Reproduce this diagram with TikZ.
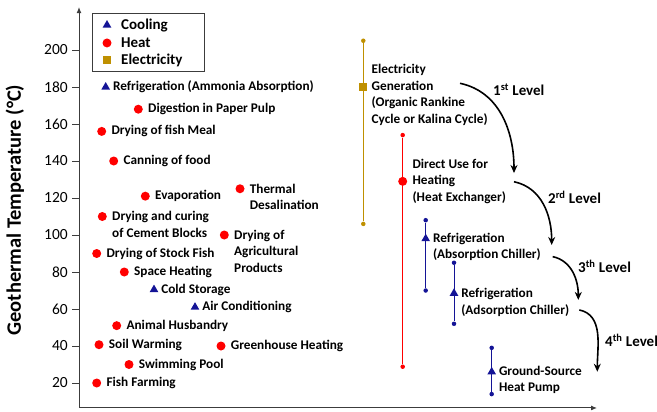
\documentclass[tikz,border=0pt]{standalone}
\usepackage{fontspec}
\setmainfont{Carlito}
\usetikzlibrary{arrows.meta}
\usetikzlibrary{calc}
\usetikzlibrary{positioning}
\usetikzlibrary{shapes.geometric}

\definecolor{coolblue}{RGB}{20,20,150}
\definecolor{heatred}{RGB}{255,0,0}
\definecolor{elecgold}{RGB}{191,144,0}
\definecolor{goldline}{RGB}{225,160,0}
\definecolor{axisgray}{RGB}{60,60,60}

\begin{document}
\begin{tikzpicture}[x=1pt, y=1.85pt,
    heat/.style={circle, fill=heatred, inner sep=0pt, minimum size=9pt},
    cool/.style={regular polygon, regular polygon sides=3, fill=coolblue, inner sep=0pt, minimum size=10pt},
    elec/.style={rectangle, fill=elecgold, inner sep=0pt, minimum size=8pt},
    enddot/.style={circle, fill=#1, inner sep=0pt, minimum size=4.5pt},
    txt/.style={font=\fontsize{13.25}{16.5}\selectfont\bfseries, align=left, inner sep=0pt},
    lvl/.style={font=\fontsize{15}{18}\selectfont\bfseries, anchor=west, inner sep=0pt},
    levelarrow/.style={line width=1.6pt, -{Stealth[length=8pt, width=7pt]}}]

  \useasboundingbox (0,4.865) rectangle (657,227.03);

  % axes
  \coordinate (origin) at (79,6.5);
  \coordinate (ytop) at (79,223.2);
  \coordinate (xend) at (597,6.5);
  \draw[axisgray, line width=1pt, -{Latex[length=6pt, width=5pt]}] (origin) -- (ytop);
  \draw[axisgray, line width=1pt, -{Latex[length=6pt, width=5pt]}] (origin) -- (xend);
  \foreach \t in {20,40,...,200}{
    \draw[axisgray, line width=0.6pt] (79,\t) -- (72,\t);
    \node[anchor=east, inner sep=0pt, font=\fontsize{15.5}{18}\selectfont] (tick\t) at (68,\t) {\t};
  }
  \node[rotate=90, font=\fontsize{20.5}{24}\selectfont\bfseries] (ylabel) at (15,113.5) {Geothermal Temperature (°C)};

  % legend
  \draw[axisgray, line width=0.6pt] (92.7,188.6) rectangle (204,220);
  \node[cool] (lgcool) at (107,213.5) {};
  \node[heat] (lgheat) at (107,203.8) {};
  \node[elec] (lgelec) at (107,194.6) {};
  \node[lvl] (lgcooltxt) at (121,213.5) {Cooling};
  \node[lvl] (lgheattxt) at (121,203.8) {Heat};
  \node[lvl] (lgelectxt) at (121,194.6) {Electricity};

  % direct applications
  \node[cool] (ram) at (105.7,180) {};
  \node[txt, right=4pt of ram] (ramtxt) {Refrigeration (Ammonia Absorption)};
  \node[heat] (dpp) at (138.3,168) {};
  \node[txt, right=5pt of dpp] (dpptxt) {Digestion in Paper Pulp};
  \node[heat] (dfm) at (101.7,156) {};
  \node[txt, right=5pt of dfm] (dfmtxt) {Drying of fish Meal};
  \node[heat] (cof) at (113.7,140) {};
  \node[txt, right=5pt of cof] (coftxt) {Canning of food};
  \node[heat] (eva) at (145.3,121) {};
  \node[txt, right=5pt of eva] (evatxt) {Evaporation};
  \node[heat] (tds) at (240,125) {};
  \node[txt, right=5pt of tds, yshift=-8pt] (tdstxt) {Thermal\\Desalination};
  \node[heat] (dcc) at (102.3,110) {};
  \node[txt, right=5pt of dcc, yshift=-8pt] (dcctxt) {Drying and curing\\of Cement Blocks};
  \node[heat] (dap) at (224.3,100) {};
  \node[txt, right=5pt of dap, yshift=-16pt] (daptxt) {Drying of\\Agricultural\\Products};
  \node[heat] (dsf) at (96.7,90) {};
  \node[txt, right=5pt of dsf] (dsftxt) {Drying of Stock Fish};
  \node[heat] (sph) at (124.3,80) {};
  \node[txt, right=5pt of sph] (sphtxt) {Space Heating};
  \node[cool] (cst) at (154,70.5) {};
  \node[txt, right=4pt of cst] (csttxt) {Cold Storage};
  \node[cool] (acn) at (195,61) {};
  \node[txt, right=4pt of acn] (acntxt) {Air Conditioning};
  \node[heat] (ahb) at (116.7,51) {};
  \node[txt, right=5pt of ahb] (ahbtxt) {Animal Husbandry};
  \node[heat] (soi) at (99,40.7) {};
  \node[txt, right=5pt of soi] (soitxt) {Soil Warming};
  \node[heat] (grh) at (221,40) {};
  \node[txt, right=5pt of grh] (grhtxt) {Greenhouse Heating};
  \node[heat] (swp) at (129,30) {};
  \node[txt, right=5pt of swp] (swptxt) {Swimming Pool};
  \node[heat] (ffa) at (96.7,20) {};
  \node[txt, right=5pt of ffa] (ffatxt) {Fish Farming};

  % cascade ranges
  \node[enddot=elecgold] (egtop) at (363.3,205) {};
  \node[enddot=elecgold] (egbot) at (363.3,106) {};
  \draw[elecgold, line width=1.2pt] (egtop) -- (egbot);
  \node[elec] (eg) at (363.3,180) {};
  \node[txt, right=4pt of eg, yshift=-8pt] (egtxt) {Electricity\\Generation\\(Organic Rankine\\Cycle or Kalina Cycle)};

  \node[enddot=heatred] (dutop) at (402.7,154) {};
  \node[enddot=heatred] (dubot) at (402.7,28.8) {};
  \draw[heatred, line width=0.9pt] (dutop) -- (dubot);
  \node[heat] (du) at (402.7,129) {};
  \node[txt, right=5pt of du] (dutxt) {Direct Use for\\Heating\\(Heat Exchanger)};

  \node[enddot=coolblue] (abtop) at (425.7,108) {};
  \node[enddot=coolblue] (abbot) at (425.7,70) {};
  \draw[coolblue, line width=1pt] (abtop) -- (abbot);
  \node[cool] (ab) at (425.7,98) {};
  \node[txt, right=4pt of ab, yshift=-8pt] (abtxt) {Refrigeration\\(Absorption Chiller)};

  \node[enddot=coolblue] (adtop) at (454,85) {};
  \node[enddot=coolblue] (adbot) at (454,52) {};
  \draw[coolblue, line width=1pt] (adtop) -- (adbot);
  \node[cool] (ad) at (454,68.5) {};
  \node[txt, right=4pt of ad, yshift=-9pt] (adtxt) {Refrigeration\\(Adsorption Chiller)};

  \node[enddot=coolblue] (hptop) at (491.7,39) {};
  \node[enddot=coolblue] (hpbot) at (491.7,14) {};
  \draw[coolblue, line width=1pt] (hptop) -- (hpbot);
  \node[cool] (hp) at (491.7,26) {};
  \node[txt, right=4pt of hp, yshift=-8pt] (hptxt) {Ground-Source\\Heat Pump};

  % levels
  \coordinate (l1a) at (460,182);
  \coordinate (l1b) at (514,133.5);
  \coordinate (l2a) at (514,128.8);
  \coordinate (l2b) at (551.7,94.6);
  \coordinate (l3a) at (552.7,88.3);
  \coordinate (l3b) at (578.3,64.9);
  \coordinate (l4a) at (579.3,59.5);
  \coordinate (l4b) at (597.3,26.1);
  \draw[levelarrow] (l1a) to[out=-12, in=90] (l1b);
  \draw[levelarrow] (l2a) to[out=-12, in=90] (l2b);
  \draw[levelarrow] (l3a) to[out=-12, in=90] (l3b);
  \draw[levelarrow] (l4a) to[out=-12, in=90] (l4b);
  \node[lvl] (lev1) at (493,178.4) {1\textsuperscript{st} Level};
  \node[lvl] (lev2) at (548,120.5) {2\textsuperscript{rd} Level};
  \node[lvl] (lev3) at (578,82.9) {3\textsuperscript{th} Level};
  \node[lvl] (lev4) at (605,43.2) {4\textsuperscript{th} Level};
\end{tikzpicture}
\end{document}
